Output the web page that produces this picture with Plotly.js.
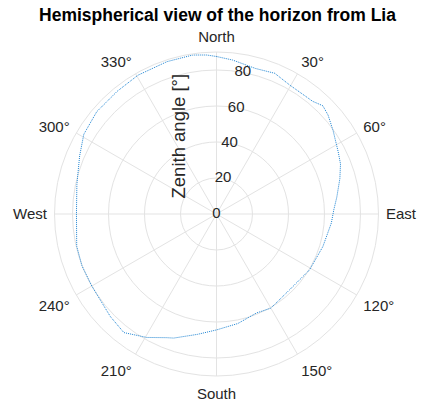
<!DOCTYPE html>
<html>
<head>
<meta charset="utf-8">
<script src="https://cdn.plot.ly/plotly-3.0.1.min.js"></script>
<style>
  html, body { margin: 0; padding: 0; background: #ffffff; }
  #chart { width: 421px; height: 405px; }
</style>
</head>
<body>
<div id="chart"></div>
<script>
// Horizon profile seen from Lia: azimuth (deg, clockwise from North) and zenith angle (deg)
const azimuth = [0, 6, 15, 22.5, 29.5, 40.5, 44.5, 48.5, 54.5, 63, 68, 74, 82, 88, 94.5,
  107, 121, 136, 150, 158, 169, 180, 189, 199, 202, 209.5, 218, 226, 240, 249, 257,
  270, 282, 293, 301, 310.5, 321, 330.5, 342, 351.5, 356.5, 360];
const zenith = [87.5, 86, 83.7, 84.6, 82.4, 82.3, 84.3, 82.8, 79.6, 75.9, 74.3, 71.3, 67.5, 65.2, 64,
  61.8, 60.3, 58.5, 60.4, 59.3, 62, 64.4, 67.7, 72.9, 74.1, 78.8, 83.6, 82, 80, 80.1, 79.7,
  77.8, 79.3, 82.6, 86, 87.5, 87.7, 88.6, 89, 89.3, 88.5, 87.5];

// Angular ticks and their labels
const thetaTicks = [0, 30, 60, 90, 120, 150, 180, 210, 240, 270, 300, 330];
const thetaLabels = ['North', '30°', '60°', 'East', '120°', '150°', 'South', '210°', '240°', 'West', '300°', '330°'];

// Radial ticks
const rTicks = [0, 20, 40, 60, 80];

const W = 421, H = 405;
const cx = 216.5, cy = 214, R = 162;
const rLabelAzimuth = 10.5;   // radial tick labels sit on this bearing, centred on their ring

const gridCol = '#e3e3e3';
const textCol = '#262626';
const font = 'Liberation Sans, Arial, Helvetica, sans-serif';

const horizon = {
  type: 'scatterpolar',
  mode: 'lines',
  theta: azimuth,
  r: zenith,
  line: { color: '#1f84d2', width: 1, dash: '1px,1px' },
  hoverinfo: 'skip'
};

// Radial tick labels, placed through the polar scale
const radialLabels = {
  type: 'scatterpolar',
  mode: 'text',
  theta: rTicks.map(() => rLabelAzimuth),
  r: rTicks,
  text: rTicks.map(String),
  textposition: 'middle center',
  textfont: { family: font, size: 15, color: textCol },
  hoverinfo: 'skip',
  cliponaxis: false
};

const layout = {
  width: W,
  height: H,
  margin: { l: 0, r: 0, t: 0, b: 0 },
  paper_bgcolor: '#ffffff',
  showlegend: false,
  font: { family: font, size: 15, color: textCol },
  title: {
    text: '<b>Hemispherical view of the horizon from Lia</b>',
    font: { family: font, size: 17.5, color: '#000000' },
    x: 217.5 / W, xanchor: 'center',
    y: 1 - 14.5 / H, yanchor: 'middle'
  },
  polar: {
    domain: {
      x: [(cx - R) / W, (cx + R) / W],
      y: [1 - (cy + R) / H, 1 - (cy - R) / H]
    },
    bgcolor: '#ffffff',
    angularaxis: {
      rotation: 90,
      direction: 'clockwise',
      tickmode: 'array',
      tickvals: thetaTicks,
      ticktext: thetaLabels,
      ticks: 'outside',
      ticklen: 4,
      tickcolor: 'rgba(0,0,0,0)',
      showline: true,
      linecolor: gridCol,
      linewidth: 1,
      gridcolor: gridCol,
      gridwidth: 1,
      tickfont: { family: font, size: 15, color: textCol }
    },
    radialaxis: {
      range: [0, 90],
      tickmode: 'array',
      tickvals: rTicks,
      ticks: '',
      showline: false,
      showticklabels: false,
      gridcolor: gridCol,
      gridwidth: 1
    }
  },
  annotations: [{
    text: 'Zenith angle [°]',
    xref: 'paper', yref: 'paper',
    x: 177.5 / W, y: 1 - 136 / H,
    xanchor: 'center', yanchor: 'middle',
    textangle: -90,
    showarrow: false,
    font: { family: font, size: 18.5, color: textCol }
  }]
};

Plotly.newPlot('chart', [horizon, radialLabels], layout, { displayModeBar: false, staticPlot: true });
</script>
</body>
</html>
